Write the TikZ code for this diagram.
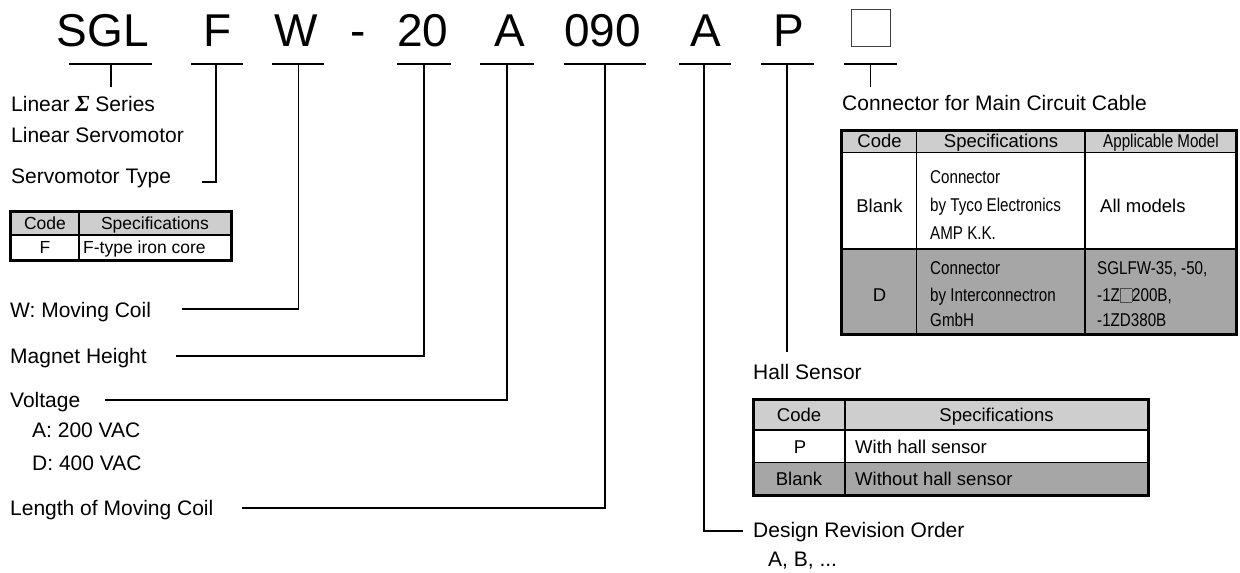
\documentclass[tikz,border=0pt]{standalone}
\usepackage{fontspec}
\setmainfont{Liberation Sans}
\newfontfamily\cond[FakeStretch=0.82]{Liberation Sans}
\newfontfamily\sigmafont{Liberation Serif}
\usetikzlibrary{calc}
\definecolor{hdr}{RGB}{206,206,206}
\definecolor{drk}{RGB}{166,166,166}
\newcommand\blankbox{{\setlength{\fboxsep}{0pt}\setlength{\fboxrule}{0.6pt}\color{black!70}\fbox{\vrule width0pt height12.5pt depth0pt\hspace{11pt}}}}
\begin{document}
\begin{tikzpicture}[x=1pt,y=-1pt,
  lbl/.style={anchor=base west, inner sep=0pt, font=\fontsize{21}{25}\selectfont},
  codeltr/.style={anchor=base, inner sep=0pt, font=\fontsize{46}{50}\selectfont},
  ln/.style={line width=1.3pt},
  outerb/.style={line width=3pt},
  innerb/.style={line width=1.5pt},
  cellc/.style={anchor=base, inner sep=0pt, font=\fontsize{18.5}{21}\selectfont},
  cellw/.style={anchor=base west, inner sep=0pt, font=\fontsize{18.5}{21}\selectfont},
  condw/.style={anchor=base west, inner sep=0pt, font=\fontsize{18.5}{21}\selectfont\cond},
  condc/.style={anchor=base, inner sep=0pt, font=\fontsize{18.5}{21}\selectfont\cond},
  smallc/.style={anchor=base, inner sep=0pt, font=\fontsize{17.5}{21}\selectfont},
  smallw/.style={anchor=base west, inner sep=0pt, font=\fontsize{17.5}{21}\selectfont}]
\useasboundingbox (0,0) rectangle (1240,573);
\fill[white] (0,0) rectangle (1240,573);

% ---- model code letters ----
\node[codeltr] (cSGL) at (103,46) {SGL};
\node[codeltr] (cF) at (218,46) {F};
\node[codeltr] (cW) at (296.5,46) {W};
\node[codeltr] (cdash) at (358,46) {-};
\node[codeltr] (c20) at (423,46) {20};
\node[codeltr] (cA) at (510,46) {A};
\node[codeltr] (c090) at (602.6,46) {090};
\node[codeltr] (cA2) at (706,46) {A};
\node[codeltr] (cP) at (789,46) {P};
\node[draw=black!75, line width=1pt, minimum width=39, minimum height=37.5, inner sep=0pt] (cbox) at (870.5,28) {};

% ---- underlines ----
\foreach \a/\b/\m/\n in {69/152/111/uSGL, 191/243/216/uF, 272/324/298.5/uW, 397/451/424/u20, 480/534/507/uA, 563.5/646/605/u090, 678.5/730.7/704/uA2, 761/814/787/uP, 844/897/870.5/ubox}{
  \draw[ln] (\a,64) -- (\b,64);
  \coordinate (\n) at (\m,64);
}

% ---- labels ----
\node[lbl] (lSeries) at (11,111) {Linear {\sigmafont\fontsize{23}{25}\selectfont\bfseries\itshape Σ} Series};
\node[lbl] (lServo) at (11,142) {Linear Servomotor};
\node[lbl] (lType) at (11,183) {Servomotor Type};
\node[lbl] (lW) at (10,317) {W: Moving Coil};
\node[lbl] (lMag) at (10,363) {Magnet Height};
\node[lbl] (lVolt) at (10,407) {Voltage};
\node[lbl] (lVA) at (32,437) {A: 200 VAC};
\node[lbl] (lVD) at (32,470) {D: 400 VAC};
\node[lbl] (lLen) at (10,515) {Length of Moving Coil};
\node[lbl] (lConn) at (842,110) {Connector for Main Circuit Cable};
\node[lbl] (lHall) at (753,379) {Hall Sensor};
\node[lbl] (lRev) at (753,537) {Design Revision Order};
\node[lbl] (lRevV) at (768,566) {A, B, ...};

% ---- connectors ----
\coordinate (eSGL) at (111,87);
\coordinate (eBox) at (870.5,87);
\coordinate (eP) at (787,352);
\draw[ln] (uSGL) -- (eSGL);
\draw[ln] (ubox) -- (eBox);
\draw[ln] (uP) -- (eP);
\draw[ln] (uF) |- (202,182);
\draw[ln] (uW) |- (182,309);
\draw[ln] (u20) |- (176,356);
\draw[ln] (uA) |- (105,400);
\draw[ln] (u090) |- ($(lLen.base east)+(28,-7)$);
\draw[ln] (uA2) |- ($(lRev.base west)+(-10,-6)$);

% ---- table: servomotor type ----
\fill[hdr] (10.7,211) rectangle (231.7,235);
\draw[innerb] (10.7,235) -- (231.7,235);
\draw[innerb] (79,211) -- (79,260);
\draw[outerb] (10.7,211) rectangle (231.7,260);
\node[smallc] (t1h1) at (45,229.3) {Code};
\node[smallc] (t1h2) at (155,229.3) {Specifications};
\node[smallc] (t1r1) at (45,253.8) {F};
\node[smallw] (t1r2) at (83,253.8) {F-type iron core};

% ---- table: connector ----
\fill[hdr] (841.7,130) rectangle (1236.7,152.3);
\fill[drk] (841.7,249) rectangle (1236.7,334);
\draw[innerb] (841.7,152.3) -- (1236.7,152.3);
\draw[innerb] (841.7,249) -- (1236.7,249);
\draw[innerb] (916.7,130) -- (916.7,334);
\draw[innerb] (1085,130) -- (1085,334);
\draw[outerb] (841.7,130) rectangle (1236.7,334);
\node[cellc] (t2h1) at (879.5,147.5) {Code};
\node[cellc] (t2h2) at (1001,147.5) {Specifications};
\node[condc] (t2h3) at (1161,147.5) {Applicable Model};
\node[cellc] (t2b1) at (879.5,212) {Blank};
\node[condw] (t2b2) at (930,183.5) {Connector};
\node[condw] (t2b3) at (930,211.5) {by Tyco Electronics};
\node[condw] (t2b4) at (930,239.5) {AMP K.K.};
\node[cellw] (t2b5) at (1100,212) {All models};
\node[cellc] (t2d1) at (879.5,301.5) {D};
\node[condw] (t2d2) at (930,274.5) {Connector};
\node[condw] (t2d3) at (930,301.5) {by Interconnectron};
\node[condw] (t2d4) at (930,326.5) {GmbH};
\node[condw] (t2d5) at (1097,274.5) {SGLFW-35, -50,};
\node[condw] (t2d6) at (1097,301.5) {-1Z\blankbox200B,};
\node[condw] (t2d7) at (1097,326.5) {-1ZD380B};

% ---- table: hall sensor ----
\fill[hdr] (753.3,399.3) rectangle (1148.3,430);
\fill[drk] (753.3,462.7) rectangle (1148.3,495);
\draw[innerb] (753.3,430) -- (1148.3,430);
\draw[innerb] (753.3,462.7) -- (1148.3,462.7);
\draw[innerb] (845,399.3) -- (845,495);
\draw[outerb] (753.3,399.3) rectangle (1148.3,495);
\node[cellc] (t3h1) at (799,421.5) {Code};
\node[cellc] (t3h2) at (996.5,421.5) {Specifications};
\node[cellc] (t3p1) at (800,453) {P};
\node[cellw] (t3p2) at (855,453) {With hall sensor};
\node[cellc] (t3b1) at (799,485.5) {Blank};
\node[cellw] (t3b2) at (855,485.5) {Without hall sensor};
\end{tikzpicture}
\end{document}
